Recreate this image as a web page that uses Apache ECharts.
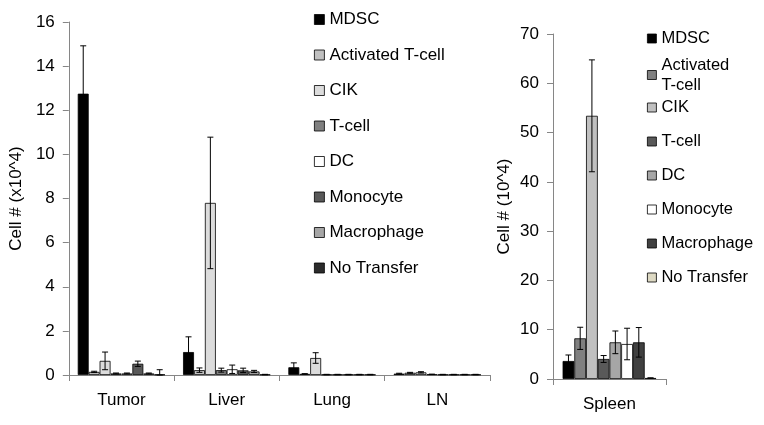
<!DOCTYPE html>
<html>
<head>
<meta charset="utf-8">
<script src="https://cdn.jsdelivr.net/npm/echarts@6/dist/echarts.min.js"></script>
<style>
html,body{margin:0;padding:0;background:#fff;}
#c{width:764px;height:425px;}
</style>
</head>
<body>
<div id="c"></div>
<script>
// ---- Data ----
var seriesNames = ['MDSC','Activated T-cell','CIK','T-cell','DC','Monocyte','Macrophage','No Transfer'];

var leftCategories = ['Tumor','Liver','Lung','LN'];
var leftTicks = [0,2,4,6,8,10,12,14,16];
var leftMDSC       = [12.75, 1.04, 0.35, 0.06];
var leftMDSCErr    = [2.17, 0.69, 0.2, 0.02];
var leftActT       = [0.14, 0.22, 0.05, 0.1];
var leftActTErr    = [0.03, 0.1, 0.01, 0.02];
var leftCIK        = [0.64, 7.8, 0.77, 0.12];
var leftCIKErr     = [0.4, 2.98, 0.24, 0.03];
var leftTcell      = [0.07, 0.22, 0.02, 0.03];
var leftTcellErr   = [0.02, 0.09, 0.01, 0.01];
var leftDC         = [0.07, 0.26, 0.02, 0.02];
var leftDCErr      = [0.02, 0.19, 0.01, 0.01];
var leftMono       = [0.51, 0.21, 0.02, 0.02];
var leftMonoErr    = [0.12, 0.1, 0.01, 0.01];
var leftMacro      = [0.07, 0.16, 0.02, 0.02];
var leftMacroErr   = [0.02, 0.05, 0.01, 0.01];
var leftNoT        = [0.02, 0.02, 0.02, 0.02];
var leftNoTErr     = [0.22, 0.01, 0.01, 0.01];

var rightCategories = ['Spleen'];
var rightTicks = [0,10,20,30,40,50,60,70];
var rightValues = [3.65, 8.25, 53.4, 4.06, 7.44, 7.1, 7.44, 0.2];
var rightErrors = [1.22, 2.25, 11.35, 0.7, 2.3, 3.2, 3.0, 0.02];

// ---- Styles ----
var leftColors  = ['#000000','#c0c0c0','#dcdcdc','#808080','#ffffff','#595959','#a6a6a6','#2b2b2b'];
var rightColors = ['#000000','#808080','#c0c0c0','#595959','#a6a6a6','#ffffff','#404040','#ddd9c3'];
var FONT = '"Liberation Sans", Arial, sans-serif';
var AXIS = '#868686';

var leftVals = [leftMDSC,leftActT,leftCIK,leftTcell,leftDC,leftMono,leftMacro,leftNoT];
var leftErrs = [leftMDSCErr,leftActTErr,leftCIKErr,leftTcellErr,leftDCErr,leftMonoErr,leftMacroErr,leftNoTErr];

var GAP = 0.17;
function errRender(idx, n) {
  return function (params, api) {
    var cat = api.value(0), v = api.value(1), e = api.value(2);
    var band = api.size([1, 0])[0];
    var total = band * (1 - GAP);
    var w = total / n;
    var c = api.coord([cat, v]);
    var x = c[0] - total / 2 + w * (idx + 0.5);
    var top = api.coord([cat, v + e])[1];
    var bot = api.coord([cat, Math.max(0, v - e)])[1];
    var cap = 3;
    var st = {stroke: '#000', lineWidth: 1};
    return {type: 'group', children: [
      {type: 'line', shape: {x1: x, y1: top, x2: x, y2: bot}, style: st},
      {type: 'line', shape: {x1: x - cap, y1: top, x2: x + cap, y2: top}, style: st},
      {type: 'line', shape: {x1: x - cap, y1: bot, x2: x + cap, y2: bot}, style: st}
    ]};
  };
}

var series = [];
seriesNames.forEach(function (name, i) {
  series.push({
    name: name, type: 'bar', xAxisIndex: 0, yAxisIndex: 0,
    data: leftVals[i], barGap: '0%', barCategoryGap: (GAP * 100) + '%',
    itemStyle: {color: leftColors[i], borderColor: '#000', borderWidth: 0.8},
    emphasis: {disabled: true}, animation: false
  });
});
seriesNames.forEach(function (name, i) {
  series.push({
    name: name, type: 'bar', xAxisIndex: 1, yAxisIndex: 1,
    data: [rightValues[i]], barGap: '0%', barCategoryGap: (GAP * 100) + '%',
    itemStyle: {color: rightColors[i], borderColor: '#000', borderWidth: 0.8},
    emphasis: {disabled: true}, animation: false
  });
});
seriesNames.forEach(function (name, i) {
  series.push({
    type: 'custom', xAxisIndex: 0, yAxisIndex: 0, z: 10,
    renderItem: errRender(i, seriesNames.length),
    encode: {x: 0, y: 1},
    data: leftCategories.map(function (c, k) { return [k, leftVals[i][k], leftErrs[i][k]]; }),
    animation: false, silent: true
  });
});
seriesNames.forEach(function (name, i) {
  series.push({
    type: 'custom', xAxisIndex: 1, yAxisIndex: 1, z: 10,
    renderItem: errRender(i, seriesNames.length),
    encode: {x: 0, y: 1},
    data: [[0, rightValues[i], rightErrors[i]]],
    animation: false, silent: true
  });
});

function legendItems(names, colors) {
  return names.map(function (n) {
    var i = seriesNames.indexOf(n);
    return {name: n, icon: 'rect', itemStyle: {color: colors[i], borderColor: '#000', borderWidth: 0.8}};
  });
}
var legTextL = {fontFamily: FONT, fontSize: 17, color: '#000', lineHeight: 16};
var legTextR = {fontFamily: FONT, fontSize: 16.5, color: '#000', lineHeight: 16};

var option = {
  backgroundColor: '#fff',
  animation: false,
  textStyle: {fontFamily: FONT},
  grid: [
    {left: 68, top: 22, right: 274, bottom: 50},
    {left: 553, top: 34, right: 98, bottom: 46}
  ],
  legend: [
    {orient: 'vertical', left: 314, top: 11, padding: 0, itemWidth: 10, itemHeight: 10, itemGap: 18.5,
     selectedMode: false, textStyle: legTextL, data: legendItems(seriesNames, leftColors)},
    {orient: 'vertical', left: 647, top: 30, padding: 0, itemWidth: 9, itemHeight: 9, itemGap: 10,
     selectedMode: false, textStyle: legTextR, data: legendItems(['MDSC'], rightColors)},
    {orient: 'vertical', left: 647, top: 55, padding: 0, itemWidth: 9, itemHeight: 9, itemGap: 10,
     selectedMode: false, textStyle: {fontFamily: FONT, fontSize: 16.5, color: '#000', lineHeight: 20},
     formatter: function (n) { return 'Activated\nT-cell'; },
     data: legendItems(['Activated T-cell'], rightColors)},
    {orient: 'vertical', left: 647, top: 99, padding: 0, itemWidth: 9, itemHeight: 9, itemGap: 17,
     selectedMode: false, textStyle: legTextR,
     data: legendItems(['CIK','T-cell','DC','Monocyte','Macrophage','No Transfer'], rightColors)}
  ],
  xAxis: [
    {type: 'category', gridIndex: 0, data: leftCategories,
     axisLine: {lineStyle: {color: AXIS, width: 1}},
     axisTick: {show: true, length: 6, lineStyle: {color: AXIS}},
     axisLabel: {fontFamily: FONT, fontSize: 17, color: '#000', margin: 17}},
    {type: 'category', gridIndex: 1, data: rightCategories,
     axisLine: {lineStyle: {color: AXIS, width: 1}},
     axisTick: {show: true, length: 6, lineStyle: {color: AXIS}},
     axisLabel: {fontFamily: FONT, fontSize: 17, color: '#000', margin: 17}}
  ],
  yAxis: [
    {type: 'value', gridIndex: 0, min: leftTicks[0], max: leftTicks[leftTicks.length - 1], interval: 2,
     name: 'Cell # (x10^4)', nameLocation: 'middle', nameGap: 42,
     nameTextStyle: {fontFamily: FONT, fontSize: 17, color: '#000'},
     axisLine: {show: true, lineStyle: {color: AXIS, width: 1}},
     axisTick: {show: true, length: 6, lineStyle: {color: AXIS}},
     splitLine: {show: false},
     axisLabel: {fontFamily: FONT, fontSize: 17, color: '#000', margin: 14}},
    {type: 'value', gridIndex: 1, min: rightTicks[0], max: rightTicks[rightTicks.length - 1], interval: 10,
     name: 'Cell # (10^4)', nameLocation: 'middle', nameGap: 40,
     nameTextStyle: {fontFamily: FONT, fontSize: 17, color: '#000'},
     axisLine: {show: true, lineStyle: {color: AXIS, width: 1}},
     axisTick: {show: true, length: 6, lineStyle: {color: AXIS}},
     splitLine: {show: false},
     axisLabel: {fontFamily: FONT, fontSize: 17, color: '#000', margin: 14}}
  ],
  series: series
};

var chart = echarts.init(document.getElementById('c'), null, {renderer: 'canvas'});
chart.setOption(option);
</script>
</body>
</html>
